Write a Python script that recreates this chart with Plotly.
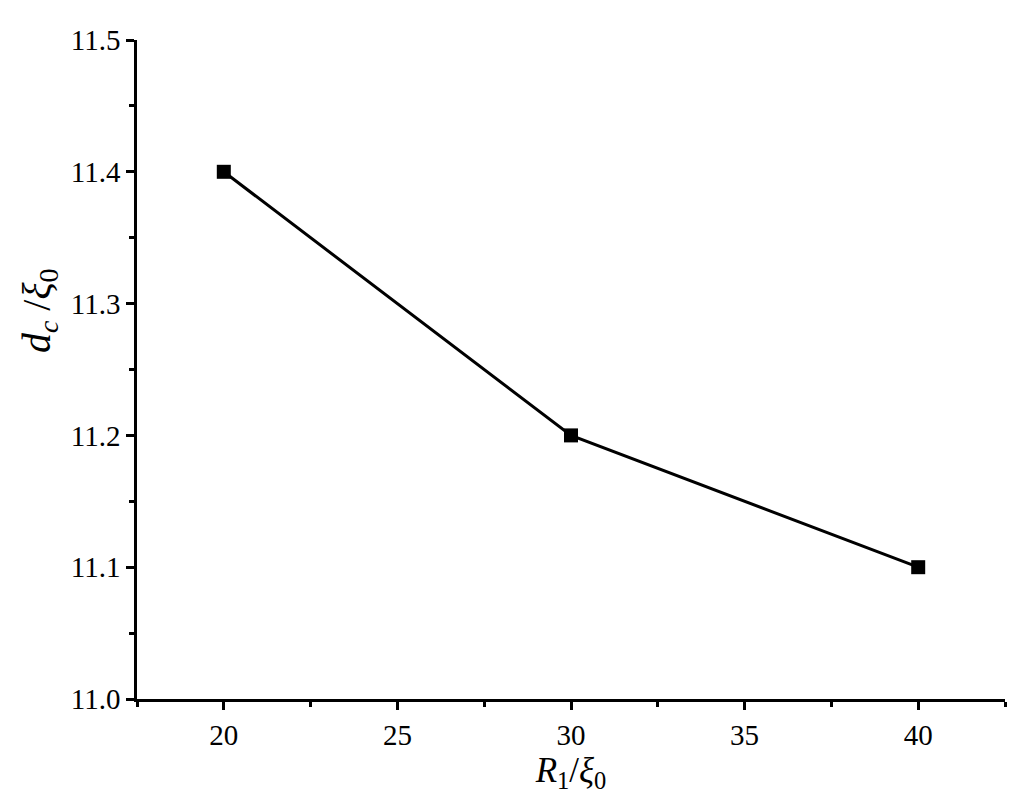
import plotly.graph_objects as go

r1_xi0 = [20, 30, 40]
dc_xi0 = [11.4, 11.2, 11.1]

x_ticks = [20, 25, 30, 35, 40]
y_ticks = [11.0, 11.1, 11.2, 11.3, 11.4, 11.5]

serif = "Liberation Serif, Times New Roman, serif"

fig = go.Figure()

fig.add_trace(go.Scatter(
    x=r1_xi0,
    y=dc_xi0,
    mode="lines+markers",
    line=dict(color="black", width=3),
    marker=dict(symbol="square", size=14, color="black"),
    showlegend=False
))

axis_common = dict(
    showline=True,
    linecolor="black",
    linewidth=2.5,
    showgrid=False,
    zeroline=False,
    ticks="outside",
    ticklen=8,
    tickwidth=2.5,
    tickcolor="black",
    tickfont=dict(family=serif, size=29, color="black"),
    mirror=False
)

fig.update_xaxes(
    range=[17.5, 42.5],
    tickvals=x_ticks,
    ticktext=[str(v) for v in x_ticks],
    minor=dict(ticks="outside", ticklen=5, tickwidth=2.5, tickcolor="black", dtick=2.5, tick0=17.5),
    title=dict(
        text="<i>R</i><sub>1</sub>/<i>ξ</i><sub>0</sub>",
        font=dict(family=serif, size=35, color="black"),
        standoff=0
    ),
    **axis_common
)

fig.update_yaxes(
    range=[11.0, 11.5],
    tickvals=y_ticks,
    ticktext=[f"{v:.1f}" for v in y_ticks],
    minor=dict(ticks="outside", ticklen=5, tickwidth=2.5, tickcolor="black", dtick=0.05, tick0=11.0),
    **axis_common
)

# y title sits above the middle of the axis, as in the original
fig.add_annotation(
    text="<i>d</i><sub><i>c</i></sub> /<i>ξ</i><sub>0</sub>",
    xref="paper", yref="paper",
    x=-0.113, y=0.59,
    xanchor="center", yanchor="middle",
    textangle=-90,
    showarrow=False,
    font=dict(family=serif, size=40, color="black")
)

# page has an 8px body margin, so the figure is shrunk to fit the window
fig.update_layout(
    width=1016,
    height=801,
    margin=dict(l=129, r=19, t=32, b=110),
    plot_bgcolor="white",
    paper_bgcolor="white"
)

fig.write_html("out.html")
